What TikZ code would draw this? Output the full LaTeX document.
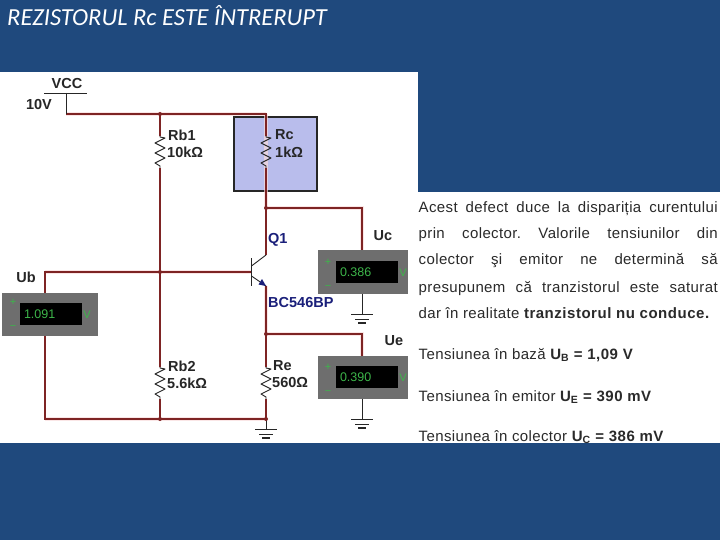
\documentclass[tikz,border=0pt]{standalone}
\usepackage{fontspec}
\setmainfont{Liberation Sans}
\newfontfamily\titlefont{Carlito}
\definecolor{bg}{HTML}{1F497D}
\definecolor{wire}{HTML}{7E2424}
\definecolor{halo}{HTML}{F9DCDC}
\definecolor{boxfill}{HTML}{B9BDEC}
\definecolor{metergray}{HTML}{6E6E6E}
\definecolor{lcd}{HTML}{3DB54A}
\definecolor{navy}{HTML}{1A1F7A}
\definecolor{bodytext}{HTML}{2A2A2A}
\newcommand{\wb}[1]{{\bfseries\addfontfeatures{LetterSpace=3.5}#1}}
\newcommand{\lcdtext}[1]{\hbox to 62pt{\hspace{4pt}#1\hfill}}
\tikzset{
  wirepath/.style={draw=wire,line width=1.05pt},
  blk/.style={draw=black!85,line width=.9pt},
  junct/.style={circle,fill=wire,inner sep=0pt,minimum size=4pt},
  meterbody/.style={fill=metergray,draw=none,inner sep=0pt,minimum width=#1,minimum height=43.5pt},
  lcdbox/.style={fill=black,draw=none,inner sep=0pt,minimum width=62pt,minimum height=22pt,text=lcd,font=\fontsize{12.5}{12.5}\selectfont},
  marklab/.style={text=lcd,inner sep=0pt,font=\fontsize{11}{11}\selectfont},
  lab/.style={inner sep=0pt,anchor=west,text=black!85,font=\fontsize{14.5}{14.5}\selectfont\bfseries},
  clab/.style={inner sep=0pt,text=black!85,font=\fontsize{14.5}{14.5}\selectfont\bfseries},
  line/.style={inner sep=0pt,anchor=base west,text=bodytext,font=\fontsize{15}{15}\selectfont\addfontfeatures{LetterSpace=2.5}},
  pics/zig/.style={code={
    \draw[blk,line join=round] (0,0) -- (0,1) -- (5,2) -- (-5,7) -- (5,12) -- (-5,17) -- (5,22) -- (-5,27) -- (0,30) -- (0,32);
  }},
  pics/gnd/.style={code={
    \draw[black!85,line width=1pt] (-11,0) -- (11,0);
    \draw[black!85,line width=1pt] (-7,5) -- (7,5);
    \draw[black!85,line width=1.6pt] (-4,9) -- (4,9);
  }}
}
\begin{document}
\begin{tikzpicture}[x=1pt,y=-1pt]
\useasboundingbox (0,0) rectangle (720,540);
\fill[bg] (0,0) rectangle (720,540);
\fill[white] (0,72) rectangle (418,443);
\fill[white] (418,192) rectangle (720,443);
\node[white,inner sep=0pt,anchor=base west,font=\fontsize{24.5}{24.5}\selectfont\titlefont\itshape] (title) at (7,26) {REZISTORUL Rc ESTE ÎNTRERUPT};
\fill[boxfill,draw=black!85,line width=1.1pt] (234,117) rectangle (317,191);
% coordinates
\coordinate (vcc) at (66,93);
\coordinate (vccc) at (66,114);
\coordinate (j1) at (160,114);
\coordinate (t1) at (266,114);
\coordinate (r1t) at (160,136);
\coordinate (r1b) at (160,168);
\coordinate (j2) at (160,272);
\coordinate (ubt) at (45,272);
\coordinate (base) at (251,272);
\coordinate (r2t) at (160,367);
\coordinate (r2b) at (160,399);
\coordinate (j3) at (160,419);
\coordinate (ubb) at (45,419);
\coordinate (r3t) at (266,136);
\coordinate (r3b) at (266,168);
\coordinate (j4) at (266,208);
\coordinate (ucc) at (362,208);
\coordinate (cold) at (266,255);
\coordinate (emd) at (266,286);
\coordinate (j5) at (266,334);
\coordinate (uec) at (362,334);
\coordinate (r4t) at (266,367);
\coordinate (r4b) at (266,399);
\coordinate (j6) at (266,419);
\coordinate (g1) at (266,429);
\coordinate (g2) at (362,314);
\coordinate (g3) at (362,419);
% meters
\node[meterbody=96pt] (mub) at (50,314.5) {};
\node[meterbody=90pt] (muc) at (363,272) {};
\node[meterbody=90pt] (mue) at (363,377.5) {};
% halo
\draw[halo,line width=4pt,opacity=.7] (vccc) -- (t1) (ubt) -- (base) (ubb) -- (j6) (j4) -- (ucc) -- (muc.north -| ucc) (j5) -- (uec) -- (mue.north -| uec) (t1) -- (j4) (emd) -- (j5);
% wires
\draw[wirepath] (vccc) -- (j1) -- (t1) -- (r3t);
\draw[wirepath] (j1) -- (r1t);
\draw[wirepath] (r1b) -- (j2) -- (r2t);
\draw[wirepath] (r2b) -- (j3);
\draw[wirepath] (mub.north -| ubt) -- (ubt) -- (j2) -- (base);
\draw[wirepath] (mub.south -| ubb) -- (ubb) -- (j3) -- (j6);
\draw[wirepath] (r3b) -- (j4) -- (cold);
\draw[wirepath] (j4) -- (ucc) -- (muc.north -| ucc);
\draw[wirepath] (emd) -- (j5) -- (r4t);
\draw[wirepath] (j5) -- (uec) -- (mue.north -| uec);
\draw[wirepath] (r4b) -- (j6);
\draw[blk] (44,93) -- (87,93);
\draw[blk] (vcc) -- (vccc);
\draw[blk] (j6) -- (g1);
\draw[blk] (muc.south -| g2) -- (g2);
\draw[blk] (mue.south -| g3) -- (g3);
\pic at (r1t) {zig};
\pic at (r2t) {zig};
\pic at (r3t) {zig};
\pic at (r4t) {zig};
\pic at (g1) {gnd};
\pic at (g2) {gnd};
\pic at (g3) {gnd};
% transistor
\draw[black!85,line width=1.1pt] (251.5,258) -- (251.5,286);
\draw[blk] (251.5,266) -- (cold);
\draw[blk] (251.5,276) -- (emd);
\fill[navy] (266,286) -- (258.5,284.5) -- (262,279) -- cycle;
% junctions
\foreach \j in {j1,j2,j3,j4,j5,j6} \node[junct] at (\j) {};
% meter interior
\node[lcdbox] (dub) at (51,314) {\lcdtext{1.091}};
\node[lcdbox] (duc) at (367,272) {\lcdtext{0.386}};
\node[lcdbox] (due) at (367,377) {\lcdtext{0.390}};
\foreach \n/\x/\y in {a/13/302,b/328/262,c/328/367}
  \node[marklab] (p\n) at (\x,\y) {+};
\foreach \n/\x/\y in {a/13/327,b/328/287,c/328/392}
  \node[marklab] (m\n) at (\x,\y) {−};
\foreach \n/\x/\y in {a/87/315,b/403/273,c/403/378}
  \node[marklab] (v\n) at (\x,\y) {V};
% labels
\node[clab] (lvcc) at (67,84) {VCC};
\node[clab] (l10v) at (39,105) {10V};
\node[lab] (lrb1) at (168,135) {Rb1};
\node[lab] (lrb1v) at (167,152) {10kΩ};
\node[lab] (lrc) at (275,135) {Rc};
\node[lab] (lrcv) at (275,152) {1kΩ};
\node[lab] (lq) at (268,240) {\textcolor{navy}{Q1}};
\node[lab] (lbc) at (268,303) {\textcolor{navy}{BC546BP}};
\node[clab] (luc) at (383,236) {Uc};
\node[clab] (lub) at (26,277) {Ub};
\node[clab] (lue) at (394,341) {Ue};
\node[lab] (lrb2) at (168,366) {Rb2};
\node[lab] (lrb2v) at (167,383) {5.6kΩ};
\node[lab] (lre) at (273,366) {Re};
\node[lab] (lrev) at (272,383) {560Ω};
% text
\node[line] (t1a) at (418.5,212) {\hbox to 299pt{Acest\hfill defect\hfill duce\hfill la\hfill dispariția\hfill curentului}};
\node[line] (t2a) at (418.5,238) {\hbox to 299pt{prin\hfill colector.\hfill Valorile\hfill tensiunilor\hfill din}};
\node[line] (t3a) at (418.5,264) {\hbox to 299pt{colector\hfill şi\hfill emitor\hfill ne\hfill determină\hfill să}};
\node[line] (t4a) at (418.5,292) {\hbox to 299pt{presupunem\hfill că\hfill tranzistorul\hfill este\hfill saturat}};
\node[line] (t5a) at (418.5,318) {dar în realitate \wb{tranzistorul nu conduce.}};
\node[line] (t6a) at (418.5,359) {Tensiunea în bază \wb{U\textsubscript{B} = 1,09 V}};
\node[line] (t7a) at (418.5,401) {Tensiunea în emitor \wb{U\textsubscript{E} = 390 mV}};
\node[line] (t8a) at (418.5,441) {Tensiunea în colector \wb{U\textsubscript{C} = 386 mV}};
\end{tikzpicture}
\end{document}
